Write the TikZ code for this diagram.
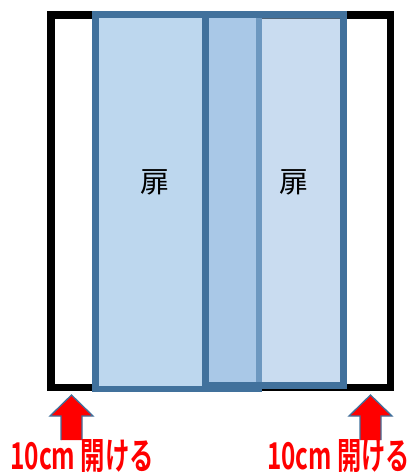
\documentclass[tikz,border=0pt]{standalone}
\usepackage{fontspec}
\newfontfamily\jpfont{Noto Sans CJK JP}
\newfontfamily\jpbold{Noto Sans CJK JP Bold}
\definecolor{doorblue}{RGB}{65,113,156}
\definecolor{doorfill}{RGB}{189,215,238}
\definecolor{frontfill}{RGB}{151,188,226}
\begin{document}
\begin{tikzpicture}[x=1pt,y=-1pt,
  framebox/.style={draw=black,line width=7.5pt},
  backdoor/.style={draw=doorblue,fill=doorfill,line width=6.5pt},
  frontdoor/.style={draw=doorblue,fill=frontfill,fill opacity=0.52,draw opacity=1,line width=6.5pt},
  doorlabel/.style={font=\jpfont\fontsize{29}{29}\selectfont,text=black,inner sep=0pt},
  openlabel/.style={font=\jpbold\fontsize{31}{31}\selectfont,text=red,inner sep=0pt,anchor=base west},
  uparrow/.style={fill=red,draw=doorblue,line width=1.3pt,line join=miter}
]
\useasboundingbox (0,0) rectangle (412,472);
% frame
\draw[framebox] (50.75,14.75) rectangle (390.25,387.25);
% back (left) door
\draw[backdoor] (95.25,14.25) rectangle (258.75,388.75);
% front (right) door
\draw[frontdoor] (205.5,14.5) rectangle (343.5,385.5);
\node[doorlabel] (d1) at (155,182) {扉};
\node[doorlabel] (d2) at (294,182) {扉};
% arrows
\fill[red] (61,416) rectangle (82,440);
\draw[uparrow] (61,440) -- (61,416) -- (50,416) -- (71.5,395) -- (93,416) -- (82,416) -- (82,440);
\fill[red] (360,416) rectangle (381,440);
\draw[uparrow] (360,440) -- (360,416) -- (349,416) -- (370.5,395) -- (392,416) -- (381,416) -- (381,440);
\node[openlabel] (t1) at (10,469) {\resizebox{144pt}{30pt}{10cm 開ける}};
\node[openlabel] (t2) at (267,469) {\resizebox{143pt}{30pt}{10cm 開ける}};
\end{tikzpicture}
\end{document}
